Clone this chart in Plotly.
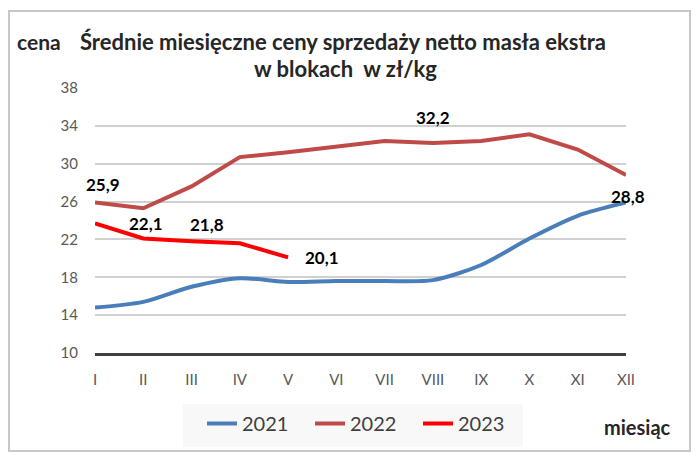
import plotly.graph_objects as go

months = ["I", "II", "III", "IV", "V", "VI", "VII", "VIII", "IX", "X", "XI", "XII"]
y2021 = [14.8, 15.4, 17.0, 17.9, 17.5, 17.6, 17.6, 17.7, 19.3, 22.1, 24.5, 25.9]
y2022 = [25.9, 25.3, 27.6, 30.7, 31.2, 31.8, 32.4, 32.2, 32.4, 33.1, 31.5, 28.8]
y2023 = [23.7, 22.1, 21.8, 21.6, 20.1]

# (series, month index, label text, xshift, yshift)
labels = [
    (y2022, 0, "25,9", 8, 18),
    (y2023, 1, "22,1", 3, 15),
    (y2023, 2, "21,8", 15, 17),
    (y2023, 4, "20,1", 34, 0),
    (y2022, 7, "32,2", 0, 25),
    (y2022, 11, "28,8", 2, -21),
]

OFF = 8  # page body margin
W, H = 699 - OFF, 452 - OFF
# plot area in screen pixels: x 95..626, y 88..353
L = 95 - OFF
T = 88 - OFF
R = W - (626 - OFF)
B = H - (353 - OFF)
PW, PH = W - L - R, H - T - B


def px(x):
    return (x - OFF - L) / PW


def py(y):
    return (H - B - (y - OFF)) / PH


def cy(y):
    return (H - (y - OFF)) / H


FONT = "Lato"

fig = go.Figure()
fig.add_trace(go.Scatter(x=months, y=y2021, name="2021", mode="lines",
                         line=dict(color="#4A7EBB", width=4, shape="spline", smoothing=0.8)))
fig.add_trace(go.Scatter(x=months, y=y2022, name="2022", mode="lines",
                         line=dict(color="#BE4B48", width=4)))
fig.add_trace(go.Scatter(x=months[:len(y2023)], y=y2023, name="2023", mode="lines",
                         line=dict(color="#FF0000", width=4)))

annotations = []
for series, i, txt, xs, ys in labels:
    annotations.append(dict(x=months[i], y=series[i], text=txt, showarrow=False,
                            xshift=xs, yshift=ys,
                            font=dict(family=FONT, size=17, color="#000000", weight="bold")))

TF = dict(family=FONT, size=22, color="#262626", weight="bold")
annotations.append(dict(xref="paper", yref="paper", x=px(15), y=py(41), xanchor="left",
                        yanchor="middle", text="cena", showarrow=False,
                        font=dict(family=FONT, size=21, color="#262626", weight="bold")))
annotations.append(dict(xref="paper", yref="paper", x=px(343), y=py(41), xanchor="center",
                        yanchor="middle", text="Średnie miesięczne ceny sprzedaży netto masła ekstra",
                        showarrow=False, font=TF))
annotations.append(dict(xref="paper", yref="paper", x=px(345), y=py(68), xanchor="center",
                        yanchor="middle", text="w blokach  w zł/kg", showarrow=False, font=TF))
annotations.append(dict(xref="paper", yref="paper", x=px(637), y=py(427), xanchor="center",
                        yanchor="middle", text="miesiąc", showarrow=False,
                        font=dict(family=FONT, size=20, color="#262626", weight="bold")))

fig.update_layout(
    width=W, height=H,
    margin=dict(l=L, r=R, t=T, b=B),
    paper_bgcolor="white", plot_bgcolor="white",
    showlegend=True,
    legend=dict(orientation="h", x=px(202), y=cy(404), yref="container",
                xanchor="left", yanchor="top",
                bgcolor="rgba(0,0,0,0)", font=dict(family=FONT, size=20, color="#404040"),
                itemwidth=30, entrywidth=63, tracegroupgap=0),
    annotations=annotations,
    shapes=[
        dict(type="rect", xref="paper", yref="paper",
             x0=px(9), x1=px(690), y0=py(451), y1=py(11),
             line=dict(color="#C8C8C8", width=2), fillcolor="rgba(0,0,0,0)", layer="below"),
        dict(type="rect", xref="paper", yref="paper",
             x0=px(183), x1=px(523), y0=py(447), y1=py(404),
             line=dict(width=0), fillcolor="#F8F8F8", layer="below"),
    ],
    font=dict(family=FONT),
)
fig.update_xaxes(type="category", range=[0, 11], showgrid=False, showline=True,
                 linecolor="#404040", linewidth=3, ticks="", ticklabelstandoff=11,
                 tickfont=dict(family=FONT, size=15, color="#595959"), zeroline=False)
fig.update_yaxes(range=[10, 38], dtick=4, tick0=10, showgrid=True, gridcolor="#D0D0D0",
                 gridwidth=2, showline=False, zeroline=False, ticks="", ticklabelstandoff=16,
                 tickfont=dict(family=FONT, size=15, color="#595959"))

fig.write_html("out.html")
